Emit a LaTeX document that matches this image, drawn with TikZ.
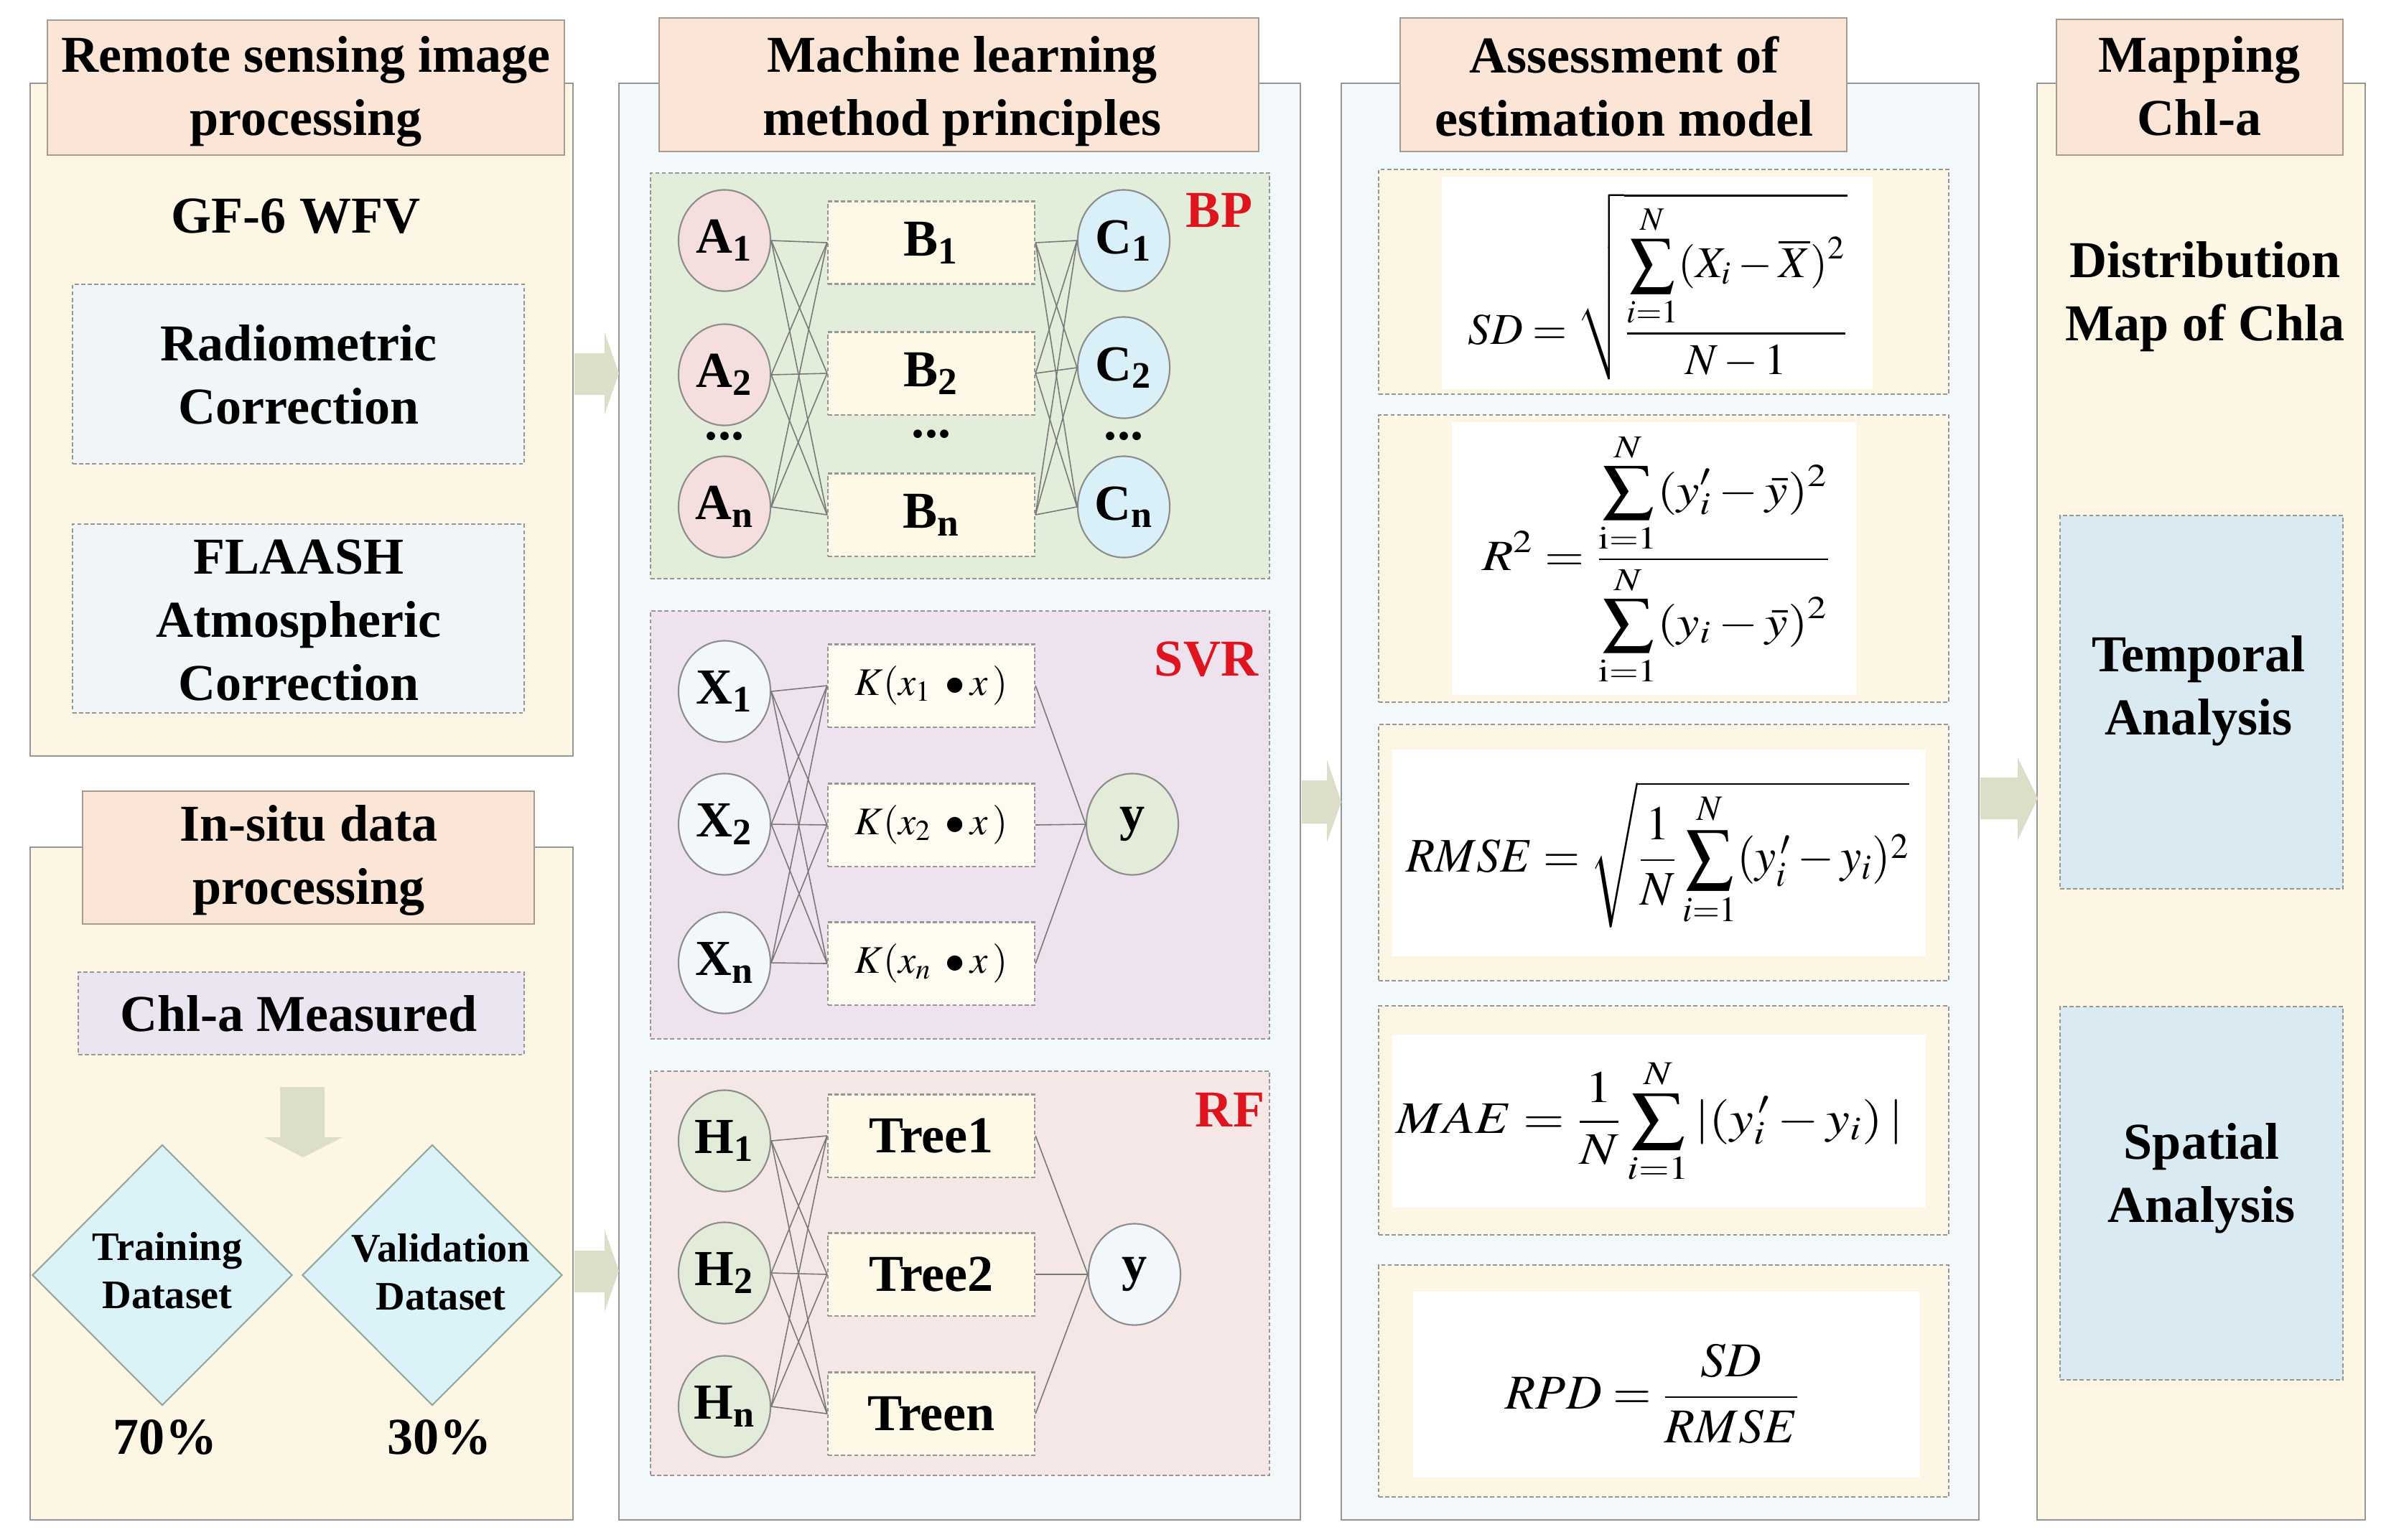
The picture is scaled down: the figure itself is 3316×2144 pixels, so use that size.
\documentclass[tikz,border=0pt]{standalone}
\usepackage{mathptmx}
\usepackage{amsmath}
\usepackage{graphicx}
\usepackage[no-math]{fontspec}
\setmainfont{Liberation Serif}
\usetikzlibrary{shapes.geometric,fit}
\definecolor{cream}{RGB}{253,246,228}
\definecolor{paleblue}{RGB}{243,248,250}
\definecolor{peach}{RGB}{251,229,214}
\definecolor{titleline}{RGB}{165,155,145}
\definecolor{colline}{RGB}{150,150,150}
\definecolor{dashline}{RGB}{150,150,150}
\definecolor{corrfill}{RGB}{240,246,248}
\definecolor{lavender}{RGB}{234,229,241}
\definecolor{cyanfill}{RGB}{218,242,248}
\definecolor{diamline}{RGB}{150,170,155}
\definecolor{arrowfill}{RGB}{220,222,200}
\definecolor{bpfill}{RGB}{226,237,218}
\definecolor{svrfill}{RGB}{238,226,238}
\definecolor{rffill}{RGB}{246,231,231}
\definecolor{afill}{RGB}{244,222,222}
\definecolor{cfill}{RGB}{218,240,248}
\definecolor{xfill}{RGB}{241,247,250}
\definecolor{gfill}{RGB}{226,236,216}
\definecolor{hidfill}{RGB}{254,248,230}
\definecolor{kfill}{RGB}{254,251,240}
\definecolor{mapfill}{RGB}{218,234,242}
\definecolor{labred}{RGB}{222,20,30}
\definecolor{edgegray}{RGB}{120,120,120}
\definecolor{circline}{RGB}{140,140,140}
\begin{document}
\begin{tikzpicture}[x=0.01cm,y=-0.01cm,
  every node/.style={font=\bfseries\fontsize{20.5}{25}\selectfont, align=center, text=black},
  colbox/.style={draw=colline, line width=0.8pt, inner sep=0pt},
  titlebox/.style={draw=titleline, fill=peach, line width=0.8pt, inner sep=0pt},
  dbox/.style={draw=dashline, dash pattern=on 1.6pt off 1pt, line width=0.6pt, inner sep=0pt},
  circ/.style={ellipse, draw=circline, line width=0.6pt, minimum width=1.28cm, minimum height=1.41cm, inner sep=0pt, font=\bfseries\fontsize{20}{22}\selectfont},
  hid/.style={dbox, fill=hidfill, minimum width=2.88cm, minimum height=1.15cm},
  kbox/.style={dbox, fill=kfill, minimum width=2.88cm, minimum height=1.15cm, font=\fontsize{15.5}{18}\selectfont},
  diam/.style={diamond, draw=diamline, fill=cyanfill, line width=0.6pt, minimum width=3.62cm, minimum height=3.63cm, inner sep=0pt},
  wire/.style={draw=edgegray, line width=0.45pt},
  mlabel/.style={text=labred, font=\bfseries\fontsize{20.5}{24}\selectfont},
  txt/.style={inner sep=0pt},
  top/.style={inner sep=0pt, anchor=north},
]
\useasboundingbox (0,0) rectangle (3316,2144);
\fill[white] (0,0) rectangle (3316,2144);

% ---------- columns ----------
\node[colbox, fill=cream, fit={(42,116)(798,1053)}] (c1a) {};
\node[colbox, fill=cream, fit={(42,1180)(798,2117)}] (c1b) {};
\node[colbox, fill=paleblue, fit={(862,116)(1811,2117)}] (c2) {};
\node[colbox, fill=paleblue, fit={(1868,116)(2756,2117)}] (c3) {};
\node[colbox, fill=cream, fit={(2837,116)(3294,2117)}] (c4) {};

% ---------- block arrows ----------
\fill[arrowfill] (800,492) -- (842,492) -- (842,463) -- (862,520) -- (842,577) -- (842,550) -- (800,550) -- cycle;
\fill[arrowfill] (800,1742) -- (842,1742) -- (842,1713) -- (862,1770) -- (842,1827) -- (842,1800) -- (800,1800) -- cycle;
\fill[arrowfill] (1813,1087) -- (1848,1087) -- (1848,1058) -- (1868,1117) -- (1848,1173) -- (1848,1147) -- (1813,1147) -- cycle;
\fill[arrowfill] (2758,1083) -- (2810,1083) -- (2810,1055) -- (2838,1112) -- (2810,1170) -- (2810,1141) -- (2758,1141) -- cycle;

% ---------- column 1 ----------
\node[titlebox, fit={(66,28)(786,216)}] (t1) {};
\node[top] (t1x) at (426,50) {Remote sensing image\\processing};
\node[top] (gf) at (412,276) {GF-6 WFV};
\node[dbox, fill=corrfill, fit={(101,396)(730,646)}] (rad) {};
\node[top] (radx) at (416,452) {Radiometric\\Correction};
\node[dbox, fill=corrfill, fit={(101,730)(730,993)}] (fla) {};
\node[top] (flax) at (416,751) {FLAASH\\Atmospheric\\Correction};

\node[titlebox, fit={(115,1102)(744,1287)}] (t1b) {};
\node[top] (t1bx) at (430,1121) {In-situ data\\processing};
\node[dbox, fill=lavender, fit={(109,1354)(730,1469)}] (chl) {};
\node[top] (chlx) at (416,1386) {Chl-a Measured};
\fill[arrowfill] (390,1514) -- (452,1514) -- (452,1584) -- (477,1584) -- (422,1612) -- (368,1584) -- (390,1584) -- cycle;
\node[diam] (tr) at (226,1776) {};
\node[top, font=\bfseries\fontsize{16}{19}\selectfont] (trt) at (233,1716) {Training\\Dataset};
\node[diam] (va) at (602,1776) {};
\node[top, font=\bfseries\fontsize{16}{19}\selectfont] (vat) at (614,1718) {Validation\\Dataset};
\node[top] (p70) at (230,1977) {70\%};
\node[top] (p30) at (612,1977) {30\%};

% ---------- column 2 ----------
\node[titlebox, fit={(918,25)(1753,211)}] (t2) {};
\node[top] (t2x) at (1340,50) {Machine learning\\method principles};

% BP
\node[dbox, fill=bpfill, fit={(906,241)(1768,806)}] (bp) {};
\node[mlabel] (bpl) at (1698,293) {BP};
\node[circ, fill=afill] (A1) at (1009,335) {A\textsubscript{1}};
\node[circ, fill=afill] (A2) at (1009,522) {A\textsubscript{2}};
\node[circ, fill=afill] (An) at (1009,706) {A\textsubscript{n}};
\node[hid] (B1) at (1297,338) {B\textsubscript{1}};
\node[hid] (B2) at (1297,520) {B\textsubscript{2}};
\node[hid] (Bn) at (1297,717) {B\textsubscript{n}};
\node[circ, fill=cfill] (C1) at (1565,335) {C\textsubscript{1}};
\node[circ, fill=cfill] (C2) at (1565,512) {C\textsubscript{2}};
\node[circ, fill=cfill] (Cn) at (1565,706) {C\textsubscript{n}};
\node[txt] (ad) at (1009,608) {...};
\node[txt] (bd) at (1297,605) {...};
\node[txt] (cd) at (1565,608) {...};
\foreach \a in {A1,A2,An} \foreach \b in {B1,B2,Bn} \draw[wire] (\a.east) -- (\b.west);
\foreach \b in {B1,B2,Bn} \foreach \c in {C1,C2,Cn} \draw[wire] (\b.east) -- (\c.west);

% SVR
\node[dbox, fill=svrfill, fit={(906,851)(1768,1447)}] (svr) {};
\node[mlabel] (svrl) at (1680,918) {SVR};
\node[circ, fill=xfill] (X1) at (1009,963) {X\textsubscript{1}};
\node[circ, fill=xfill] (X2) at (1009,1148) {X\textsubscript{2}};
\node[circ, fill=xfill] (Xn) at (1009,1341) {X\textsubscript{n}};
\node[kbox] (K1) at (1297,955) {$K(x_1\;\bullet x\,)$};
\node[kbox] (K2) at (1297,1149) {$K(x_2\;\bullet x\,)$};
\node[kbox] (Kn) at (1297,1342) {$K(x_n\;\bullet x\,)$};
\node[circ, fill=gfill] (ys) at (1577,1148) {y};
\foreach \a in {X1,X2,Xn} \foreach \b in {K1,K2,Kn} \draw[wire] (\a.east) -- (\b.west);
\foreach \b in {K1,K2,Kn} \draw[wire] (\b.east) -- (ys.west);

% RF
\node[dbox, fill=rffill, fit={(906,1492)(1768,2055)}] (rf) {};
\node[mlabel] (rfl) at (1713,1546) {RF};
\node[circ, fill=gfill] (H1) at (1009,1589) {H\textsubscript{1}};
\node[circ, fill=gfill] (H2) at (1009,1773) {H\textsubscript{2}};
\node[circ, fill=gfill] (Hn) at (1009,1959) {H\textsubscript{n}};
\node[hid] (T1) at (1297,1582) {Tree1};
\node[hid] (T2) at (1297,1775) {Tree2};
\node[hid] (Tn) at (1297,1969) {Treen};
\node[circ, fill=xfill] (yr) at (1580,1775) {y};
\foreach \a in {H1,H2,Hn} \foreach \b in {T1,T2,Tn} \draw[wire] (\a.east) -- (\b.west);
\foreach \b in {T1,T2,Tn} \draw[wire] (\b.east) -- (yr.west);

% ---------- column 3 ----------
\node[titlebox, fit={(1950,25)(2572,211)}] (t3) {};
\node[top] (t3x) at (2262,50) {Assessment of\\estimation model};

\node[dbox, fill=cream, fit={(1920,236)(2714,549)}] (f1) {};
\node[fill=white, inner sep=0pt, fit={(2008,246)(2608,542)}] (f1w) {};
\node[txt] (sd) at (2309,399) {\resizebox*{5.28cm}{2.60cm}{$\displaystyle SD=\sqrt{\frac{\displaystyle\sum_{i=1}^{N}(X_i-\overline{X})^2}{N-1}}$}};

\node[dbox, fill=cream, fit={(1920,578)(2714,978)}] (f2) {};
\node[fill=white, inner sep=0pt, fit={(2022,588)(2585,968)}] (f2w) {};
\node[txt] (r2) at (2307,779) {\resizebox*{4.85cm}{3.52cm}{$\displaystyle R^2=\frac{\displaystyle\sum_{\mathrm{i=1}}^{N}(y'_i-\bar{y})^2}{\displaystyle\sum_{\mathrm{i=1}}^{N}(y_i-\bar{y})^2}$}};

\node[dbox, fill=cream, fit={(1920,1009)(2714,1366)}] (f3) {};
\node[fill=white, inner sep=0pt, fit={(1939,1044)(2682,1332)}] (f3w) {};
\node[txt] (rmse) at (2309,1190) {\resizebox*{7.00cm}{2.04cm}{$\displaystyle RMSE=\sqrt{\frac{1}{N}\sum_{i=1}^{N}(y_i^{\,\prime}-y_i)^2}$}};

\node[dbox, fill=cream, fit={(1920,1401)(2714,1720)}] (f4) {};
\node[fill=white, inner sep=0pt, fit={(1939,1441)(2682,1682)}] (f4w) {};
\node[txt] (mae) at (2298,1562) {\resizebox*{7.06cm}{1.75cm}{$\displaystyle MAE=\frac{1}{N}\sum_{i=1}^{N}|(y_i^{\,\prime}-y_i)\,|$}};

\node[dbox, fill=cream, fit={(1920,1762)(2714,2085)}] (f5) {};
\node[fill=white, inner sep=0pt, fit={(1968,1799)(2674,2058)}] (f5w) {};
\node[txt] (rpd) at (2302,1941) {\resizebox*{4.10cm}{1.39cm}{$\displaystyle RPD=\frac{SD}{RMSE}$}};

% ---------- column 4 ----------
\node[titlebox, fit={(2864,27)(3263,216)}] (t4) {};
\node[top] (t4x) at (3063,50) {Mapping\\Chl-a};
\node[top] (dist) at (3071,336) {Distribution\\Map of Chla};
\node[dbox, fill=mapfill, fit={(2869,718)(3263,1238)}] (temp) {};
\node[top] (tempx) at (3062,885) {Temporal\\Analysis};
\node[dbox, fill=mapfill, fit={(2869,1402)(3263,1922)}] (spat) {};
\node[top] (spatx) at (3066,1564) {Spatial\\Analysis};
\end{tikzpicture}
\end{document}
